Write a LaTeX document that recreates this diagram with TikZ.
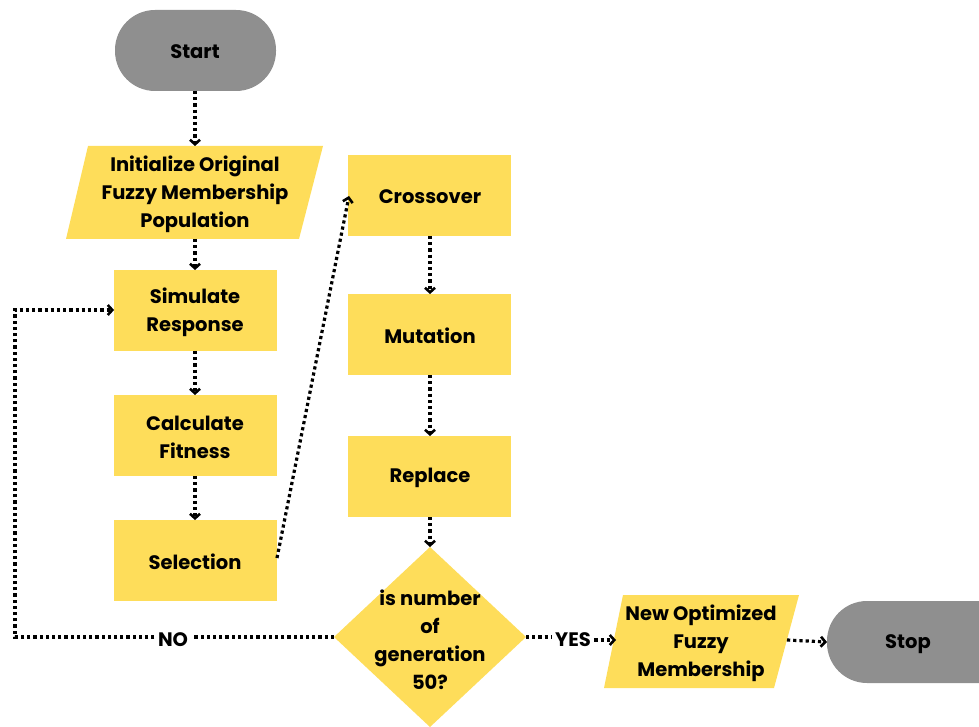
\documentclass[tikz,border=0pt]{standalone}
\usepackage{fontspec}
\setmainfont{Poppins}
\usetikzlibrary{arrows.meta,shapes.geometric,calc}
\definecolor{boxyellow}{HTML}{FEDD5A}
\definecolor{termgray}{HTML}{8F8F8F}
\tikzset{
  x=1pt, y=-1pt,
  txt/.style={font=\bfseries\fontsize{19.5}{28}\selectfont, align=center, text=black},
  proc/.style={fill=boxyellow, draw=none},
  term/.style={fill=termgray, draw=none, rounded corners=40pt},
  conn/.style={line width=3.2pt, dash pattern=on 3.2pt off 3pt,
    -{Straight Barb[length=4.5pt,width=10pt,line width=2.6pt]}},
  connplain/.style={line width=3.2pt, dash pattern=on 3.2pt off 3pt},
}
\begin{document}
\begin{tikzpicture}
\useasboundingbox (0,0) rectangle (979,727);
\clip (0,0) rectangle (979,727);
% terminals
\fill[term] (115,10) rectangle (276,91);
\node[txt] (start) at (195,52) {Start};
\fill[term] (827,601) rectangle (1060,683);
\node[txt] (stop) at (908,644) {Stop};
\coordinate (startS) at (195,91);
\coordinate (stopW) at (827,642);
% initialize parallelogram
\fill[proc] (88,146) -- (323,146) -- (299,239) -- (66,239) -- cycle;
\node[txt] (init) at (195,194) {Initialize Original\\Fuzzy Membership\\Population};
\coordinate (initN) at (195,146);
\coordinate (initS) at (195,239);
% left column
\fill[proc] (114,270) rectangle (277,351);
\node[txt] (sim) at (195,312) {Simulate\\Response};
\fill[proc] (114,395) rectangle (277,476);
\node[txt] (fit) at (195,437) {Calculate\\Fitness};
\fill[proc] (114,520) rectangle (277,601);
\node[txt] (sel) at (195,562) {Selection};
% right column
\fill[proc] (348,155) rectangle (511,236);
\node[txt] (cross) at (430,197) {Crossover};
\fill[proc] (348,294) rectangle (511,375);
\node[txt] (mut) at (430,336) {Mutation};
\fill[proc] (348,436) rectangle (511,517);
\node[txt] (rep) at (430,478) {Replace};
% diamond
\fill[proc] (430,547) -- (526,637) -- (430,727) -- (334,637) -- cycle;
\node[txt] (dec) at (430,640) {is number\\of\\generation\\50?};
% output parallelogram
\fill[proc] (623,595) -- (799,595) -- (774,688) -- (604,688) -- cycle;
\node[txt] (out) at (701,643) {New Optimized\\Fuzzy\\Membership};
% connectors
\draw[conn] (startS) -- (initN);
\draw[conn] (initS) -- (195,270);
\draw[conn] (195,351) -- (195,395);
\draw[conn] (195,476) -- (195,520);
\draw[conn] (277,558) -- (349,196);
\draw[conn] (430,236) -- (430,294);
\draw[conn] (430,375) -- (430,436);
\draw[conn] (430,517) -- (430,547);
\node[txt] (no) at (173,640) {NO};
\node[txt] (yes) at (573,640) {YES};
\draw[connplain] (334,637) -- (no.east |- 0,637);
\draw[conn] (no.west |- 0,637) -- (15,637) -- (15,310) -- (114,310);
\draw[connplain] (526,637) -- (yes.west |- 0,637);
\draw[conn] (yes.east |- 0,640) -- (616,640);
\draw[conn] (787,640) -- (stopW);
\end{tikzpicture}
\end{document}
